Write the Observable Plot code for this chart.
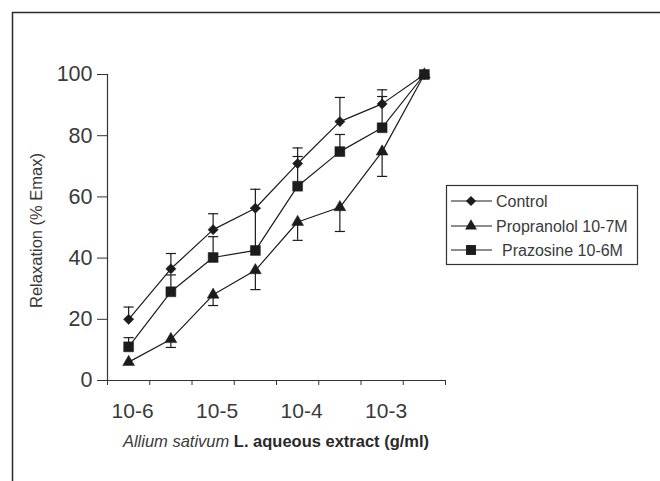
<!DOCTYPE html>
<html>
<head>
<meta charset="utf-8">
<script src="https://cdn.jsdelivr.net/npm/d3@7"></script>
<script src="https://cdn.jsdelivr.net/npm/@observablehq/plot@0.6"></script>
<style>
  html, body { margin: 0; padding: 0; background: #fff; }
  svg { display: block; }
</style>
</head>
<body>
<div id="chart"></div>
<script>
// ---- data ----
const doses = [0, 1, 2, 3, 4, 5, 6, 7];
const tickLabels = ["10-6", "10-5", "10-4", "10-3"];
const tickLabelPos = [0, 2, 4, 6];
const seriesNames = ["Control", "Propranolol 10-7M", "Prazosine 10-6M"];
const control = [20, 36.5, 49.3, 56.3, 70.9, 84.6, 90.4, 100];
const controlErr = [24, 41.5, 54.5, 62.5, 76, 92.5, 95, null];
const propranolol = [6, 13.5, 28, 36, 51.8, 56.6, 74.8, 100];
const propranololErr = [null, 10.8, 24.5, 29.7, 45.8, 48.7, 66.7, null];
const prazosine = [11, 29, 40.2, 42.5, 63.5, 74.8, 82.6, 100];
const prazosineErr = [14, 34.5, 47, 56.3, 73.2, 80.4, 92.8, null];
const yTicks = [0, 20, 40, 60, 80, 100];

const symbols = {"Control": "diamond2", "Propranolol 10-7M": "triangle", "Prazosine 10-6M": "square"};
const radii = {"Control": 4.6, "Propranolol 10-7M": 4.4, "Prazosine 10-6M": 5.6};

function rows(name, vals, errs) {
  return doses.map((d, i) => ({series: name, x: d, y: vals[i], err: errs[i]}));
}
const data = [
  ...rows("Control", control, controlErr),
  ...rows("Propranolol 10-7M", propranolol, propranololErr),
  ...rows("Prazosine 10-6M", prazosine, prazosineErr)
];
const errData = data.filter(d => d.err != null);
const minorTicks = d3.range(-0.5, 7.6, 1);

const ink = "#1c1c1c";
const textCol = "#3a3a3a";
const capHalf = 0.12;
const font = "'Liberation Sans', Arial, sans-serif";

const chart = Plot.plot({
  width: 660,
  height: 481,
  marginLeft: 107,
  marginRight: 215,
  marginTop: 74,
  marginBottom: 101,
  style: {fontFamily: font, color: textCol, background: "#fff"},
  x: {domain: [-0.5, 7.5]},
  y: {domain: [0, 100]},
  marks: [
    Plot.axisY({ticks: yTicks, tickSize: 10, tickPadding: 5, fontSize: 21.5, label: null, stroke: "#333"}),
    Plot.axisX({ticks: minorTicks, tickSize: 5, tickFormat: () => "", label: null, stroke: "#333"}),
    Plot.axisX({ticks: tickLabelPos, tickSize: 0, tickPadding: 23, fontSize: 21, dx: 4,
      tickFormat: (d) => tickLabels[tickLabelPos.indexOf(d)], label: null}),
    Plot.ruleX([-0.5], {y1: 0, y2: 100, stroke: "#333", strokeWidth: 1.2}),
    Plot.ruleY([0], {x1: -0.5, x2: 7.5, stroke: "#333", strokeWidth: 1.2}),
    Plot.text(["Relaxation (% Emax)"], {frameAnchor: "left", textAnchor: "middle", rotate: -90, dx: -71, dy: 3, fontSize: 16.5, fill: textCol}),
    // error bars
    Plot.ruleX(errData, {x: "x", y1: "y", y2: "err", stroke: ink, strokeWidth: 1.2}),
    Plot.link(errData, {x1: d => d.x - capHalf, x2: d => d.x + capHalf, y1: "err", y2: "err", stroke: ink, strokeWidth: 1.2}),
    // lines
    Plot.line(data, {x: "x", y: "y", z: "series", stroke: ink, strokeWidth: 1.2}),
    // markers
    ...seriesNames.map(name => Plot.dot(data.filter(d => d.series === name), {
      x: "x", y: "y", symbol: () => symbols[name], r: radii[name], fill: ink, stroke: ink, strokeWidth: 0.5
    }))
  ]
});

const svg = d3.select(chart);

// frame lines (top and left)
svg.append("line").attr("x1", 12).attr("y1", 12.5).attr("x2", 660).attr("y2", 12.5)
  .attr("stroke", "#2a2a2a").attr("stroke-width", 1.5);
svg.append("line").attr("x1", 12.5).attr("y1", 12).attr("x2", 12.5).attr("y2", 481)
  .attr("stroke", "#2a2a2a").attr("stroke-width", 1.5);

// x-axis title
const t = svg.append("text").attr("x", 276).attr("y", 447).attr("text-anchor", "middle")
  .attr("font-size", 16.5).attr("fill", textCol)
  .style("font-family", font);
t.append("tspan").attr("font-style", "italic").text("Allium sativum");
t.append("tspan").attr("font-weight", "bold").attr("fill", "#2a2a2a").text(" L. aqueous extract (g/ml)");

// legend
const lg = svg.append("g").style("font-family", font).attr("text-anchor", "start");
lg.append("rect").attr("x", 446.5).attr("y", 185.5).attr("width", 191).attr("height", 79)
  .attr("fill", "#fff").attr("stroke", "#333").attr("stroke-width", 1.2);
const legendRows = [
  {name: seriesNames[0], y: 201, sym: d3.symbolDiamond2, size: 4.6, tx: 496},
  {name: seriesNames[1], y: 226, sym: d3.symbolTriangle, size: 4.4, tx: 496},
  {name: seriesNames[2], y: 250, sym: d3.symbolSquare, size: 5.6, tx: 502}
];
legendRows.forEach(r => {
  lg.append("line").attr("x1", 451).attr("x2", 492).attr("y1", r.y).attr("y2", r.y)
    .attr("stroke", ink).attr("stroke-width", 1.2);
  lg.append("path").attr("transform", `translate(471,${r.y})`)
    .attr("d", d3.symbol(r.sym, Math.PI * r.size * r.size)()).attr("fill", ink);
  lg.append("text").attr("x", r.tx).attr("y", r.y).attr("dy", "0.35em").attr("text-anchor", "start")
    .attr("font-size", 16).attr("fill", textCol).text(r.name);
});

document.getElementById("chart").appendChild(chart);
</script>
</body>
</html>
